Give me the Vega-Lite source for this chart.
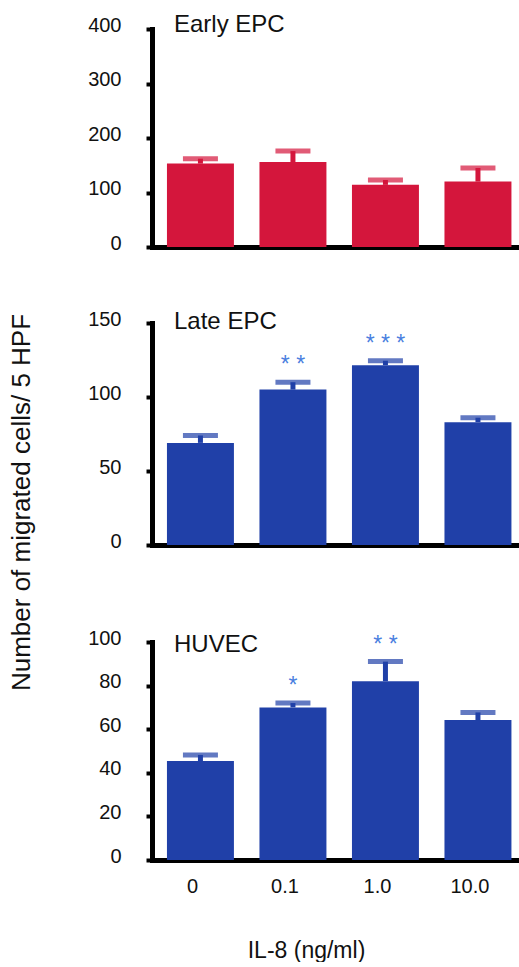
{
  "$schema": "https://vega.github.io/schema/vega-lite/v6.json",
  "padding": {"left": 8, "top": 13, "right": 0, "bottom": 0},
  "autosize": {"type": "pad"},
  "background": "white",
  "bounds": "full",
  "spacing": 56,
  "title": {"text": "Number of migrated cells/ 5 HPF", "orient": "left", "anchor": "middle", "frame": "bounds", "fontSize": 26, "fontWeight": "normal", "font": "Liberation Sans", "color": "#111", "offset": 27, "baseline": "bottom", "dx": -15},
  "config": {
    "view": {"stroke": null},
    "font": "Liberation Sans",
    "axis": {"domainColor": "#000", "domainWidth": 5, "tickColor": "#000", "tickWidth": 4, "tickSize": 6, "labelFontSize": 20, "labelColor": "#111", "labelFont": "Liberation Sans", "grid": false, "titleFont": "Liberation Sans", "titleColor": "#111", "titleFontWeight": "normal"},
    "axisY": {"labelPadding": 25, "labelOffset": -4, "labelBaseline": "middle", "domainCap": "square"},
    "axisX": {"ticks": false, "tickSize": 0, "labelAngle": 0, "labelPadding": 32, "labelBaseline": "alphabetic", "labelOffset": -8},
    "title": {"fontSize": 24, "fontWeight": "normal", "font": "Liberation Sans", "color": "#111"}
  },
  "datasets": {
    "early": [
      {"dose": "0", "mean": 153, "upper": 162},
      {"dose": "0.1", "mean": 156, "upper": 176},
      {"dose": "1.0", "mean": 114, "upper": 123},
      {"dose": "10.0", "mean": 120, "upper": 145}
    ],
    "late": [
      {"dose": "0", "mean": 69, "upper": 74, "sig": ""},
      {"dose": "0.1", "mean": 105, "upper": 110, "sig": "* *"},
      {"dose": "1.0", "mean": 121.5, "upper": 124.5, "sig": "* * *"},
      {"dose": "10.0", "mean": 83, "upper": 86, "sig": ""}
    ],
    "huvec": [
      {"dose": "0", "mean": 45.4, "upper": 48.2, "sig": ""},
      {"dose": "0.1", "mean": 70, "upper": 72, "sig": "*"},
      {"dose": "1.0", "mean": 82, "upper": 91, "sig": "* *"},
      {"dose": "10.0", "mean": 64.2, "upper": 67.7, "sig": ""}
    ]
  },
  "vconcat": [
    {
      "width": 369,
      "height": 218,
      "title": {"text": "Early EPC", "anchor": "start", "frame": "group", "orient": "top", "offset": 0, "dx": 22, "dy": 41, "baseline": "alphabetic"},
      "data": {"name": "early"},
      "encoding": {
        "x": {"field": "dose", "type": "ordinal", "sort": null, "scale": {"paddingInner": 0.276, "paddingOuter": 0.1325, "align": 0.61}, "axis": {"labels": false, "title": null, "minExtent": 0}}
      },
      "layer": [
        {"mark": {"type": "bar", "color": "#d4163c"}, "encoding": {"y": {"field": "mean", "type": "quantitative", "scale": {"domain": [0, 400], "nice": false}, "axis": {"values": [0, 100, 200, 300, 400], "title": null}}}},
        {"mark": {"type": "rule", "color": "#d4163c", "strokeWidth": 5}, "encoding": {"y": {"field": "mean", "type": "quantitative"}, "y2": {"field": "upper"}}},
        {"mark": {"type": "tick", "color": "#d4163c", "thickness": 5, "size": 35, "orient": "horizontal"}, "encoding": {"y": {"field": "upper", "type": "quantitative"}}}
      ]
    },
    {
      "width": 369,
      "height": 222,
      "title": {"text": "Late EPC", "anchor": "start", "frame": "group", "orient": "top", "offset": 0, "dx": 22, "dy": 44, "baseline": "alphabetic"},
      "data": {"name": "late"},
      "encoding": {
        "x": {"field": "dose", "type": "ordinal", "sort": null, "scale": {"paddingInner": 0.276, "paddingOuter": 0.1325, "align": 0.61}, "axis": {"labels": false, "title": null, "minExtent": 27}}
      },
      "layer": [
        {"mark": {"type": "bar", "color": "#2040a8"}, "encoding": {"y": {"field": "mean", "type": "quantitative", "scale": {"domain": [0, 150], "nice": false}, "axis": {"values": [0, 50, 100, 150], "title": null}}}},
        {"mark": {"type": "rule", "color": "#2040a8", "strokeWidth": 5}, "encoding": {"y": {"field": "mean", "type": "quantitative"}, "y2": {"field": "upper"}}},
        {"mark": {"type": "tick", "color": "#2040a8", "thickness": 5, "size": 35, "orient": "horizontal"}, "encoding": {"y": {"field": "upper", "type": "quantitative"}}},
        {"mark": {"type": "text", "color": "#4a7fe0", "fontSize": 23, "baseline": "alphabetic", "dy": -10}, "encoding": {"y": {"field": "upper", "type": "quantitative"}, "text": {"field": "sig"}}}
      ]
    },
    {
      "width": 369,
      "height": 218,
      "title": {"text": "HUVEC", "anchor": "start", "frame": "group", "orient": "top", "offset": 0, "dx": 22, "dy": 48, "baseline": "alphabetic"},
      "data": {"name": "huvec"},
      "encoding": {
        "x": {"field": "dose", "type": "ordinal", "sort": null, "scale": {"paddingInner": 0.276, "paddingOuter": 0.1325, "align": 0.61}, "axis": {"title": "IL-8 (ng/ml)", "titleX": 154, "titleY": 97, "titleBaseline": "alphabetic", "titleAlign": "center", "titleFontSize": 23}}
      },
      "layer": [
        {"mark": {"type": "bar", "color": "#2040a8"}, "encoding": {"y": {"field": "mean", "type": "quantitative", "scale": {"domain": [0, 100], "nice": false}, "axis": {"values": [0, 20, 40, 60, 80, 100], "title": null}}}},
        {"mark": {"type": "rule", "color": "#2040a8", "strokeWidth": 5}, "encoding": {"y": {"field": "mean", "type": "quantitative"}, "y2": {"field": "upper"}}},
        {"mark": {"type": "tick", "color": "#2040a8", "thickness": 5, "size": 35, "orient": "horizontal"}, "encoding": {"y": {"field": "upper", "type": "quantitative"}}},
        {"mark": {"type": "text", "color": "#4a7fe0", "fontSize": 23, "baseline": "alphabetic", "dy": -10}, "encoding": {"y": {"field": "upper", "type": "quantitative"}, "text": {"field": "sig"}}}
      ]
    }
  ]
}
